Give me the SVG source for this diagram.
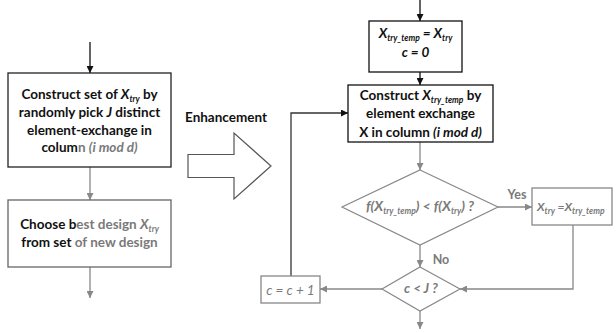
<svg xmlns="http://www.w3.org/2000/svg" width="616" height="333" viewBox="0 0 616 333">
<style>
  text{font-family:Lato,"Liberation Sans",sans-serif;font-weight:bold;font-size:13.5px;text-anchor:middle}
  .it{font-style:italic}
  .sub{font-size:8.5px;font-style:italic}
  .dk{fill:#111}
  .gr{fill:#7a7a7a}
  .box{fill:#fff;stroke-width:1.3}
  .kl{fill:none;stroke:#111;stroke-width:1.3}
  .gl{fill:none;stroke:#888;stroke-width:1.3}
</style>
<defs>
  <marker id="ak" viewBox="0 0 10 10" refX="10" refY="5" markerWidth="7" markerHeight="7" markerUnits="userSpaceOnUse" orient="auto"><path d="M0,0L10,5L0,10z" fill="#111"/></marker>
  <marker id="ag" viewBox="0 0 10 10" refX="10" refY="5" markerWidth="7" markerHeight="7" markerUnits="userSpaceOnUse" orient="auto"><path d="M0,0L10,5L0,10z" fill="#888"/></marker>
</defs>
<rect width="616" height="333" fill="#fff"/>
<g id="connectors">
  <path class="kl" d="M90,42V73" marker-end="url(#ak)"/>
  <path class="gl" d="M90,167V200" marker-end="url(#ag)"/>
  <path class="gl" d="M90,267V298" marker-end="url(#ag)"/>
  <path class="kl" d="M420,0V21" marker-end="url(#ak)"/>
  <path class="kl" d="M420,72V85" marker-end="url(#ak)"/>
  <path class="gl" d="M420,142V170" marker-end="url(#ag)"/>
  <path class="gl" d="M498,207H532" marker-end="url(#ag)"/>
  <path class="gl" d="M420,245V267" marker-end="url(#ag)"/>
  <path class="gl" d="M573,225V289H460" marker-end="url(#ag)"/>
  <path class="gl" d="M382,289H320" marker-end="url(#ag)"/>
  <path class="gl" d="M420,311V329" marker-end="url(#ag)"/>
  <path class="kl" d="M291,276V113H348" marker-end="url(#ak)" style="stroke:#333"/>
  <text x="517" y="199" class="gr" style="font-size:12.5px">Yes</text>
  <text x="441" y="264" class="gr" style="font-size:12.5px">No</text>
</g>
<g id="box1">
  <rect class="box" x="8" y="73" width="163" height="94" stroke="#222"/>
  <text x="89.5" y="99" class="dk">Construct set of <tspan class="it">X</tspan><tspan class="sub" dy="3">try</tspan><tspan dy="-3"> by</tspan></text>
  <text x="89.5" y="117" class="dk">randomly pick <tspan class="it">J</tspan> distinct</text>
  <text x="89.5" y="135" class="dk">element-exchange in</text>
  <text x="89.5" y="152" class="dk">colum<tspan class="gr">n <tspan class="it">(i mod d)</tspan></tspan></text>
</g>
<g id="box2">
  <rect class="box" x="8" y="200" width="163" height="67" stroke="#666"/>
  <text x="89.5" y="229" class="dk">Choose b<tspan class="gr">est design <tspan class="it">X</tspan><tspan class="sub" dy="3">try</tspan></tspan></text>
  <text x="89.5" y="247" class="dk">from set <tspan class="gr">of new design</tspan></text>
</g>
<g id="enhancement">
  <text x="226" y="122" class="dk">Enhancement</text>
  <polygon points="188,154.5 234,154.5 234,133 271,166 234,199 234,177.5 188,177.5" fill="#fff" stroke="#555" stroke-width="1.2"/>
</g>
<g id="init">
  <rect class="box" x="369" y="21" width="93" height="51" stroke="#111"/>
  <text x="415.5" y="38" class="dk it">X<tspan class="sub" dy="3">try_temp</tspan><tspan dy="-3"> = X</tspan><tspan class="sub" dy="3">try</tspan></text>
  <text x="415.5" y="57" class="dk it">c = 0</text>
</g>
<g id="construct">
  <rect class="box" x="348" y="85" width="145" height="57" stroke="#111"/>
  <text x="420.5" y="100" class="dk">Construct <tspan class="it">X</tspan><tspan class="sub" dy="3">try_temp</tspan><tspan dy="-3"> by</tspan></text>
  <text x="420.5" y="118" class="dk">element exchange</text>
  <text x="420.5" y="137" class="dk">X in column <tspan class="it">(i mod d)</tspan></text>
</g>
<g id="compare">
  <polygon points="420,170 498,207 420,245 342,207" fill="#fff" stroke="#888" stroke-width="1.2"/>
  <text x="420" y="211" class="gr it" style="font-size:14px">f(X<tspan class="sub" dy="3">try_temp</tspan><tspan dy="-3">) &lt; f(X</tspan><tspan class="sub" dy="3">try</tspan><tspan dy="-3">) ?</tspan></text>
</g>
<g id="update">
  <rect class="box" x="532" y="188" width="80" height="37" stroke="#888"/>
  <text x="537" y="211" class="gr it" style="text-anchor:start;font-size:12px">X<tspan class="sub" dy="3">try</tspan><tspan dy="-3"> =X</tspan><tspan class="sub" dy="3">try_temp</tspan></text>
</g>
<g id="check">
  <polygon points="420,267 460,289 420,311 382,289" fill="#fff" stroke="#888" stroke-width="1.2"/>
  <text x="421" y="293" class="gr it">c &lt; J ?</text>
</g>
<g id="increment">
  <rect class="box" x="261" y="276" width="59" height="27" stroke="#888"/>
  <text x="290.5" y="294.5" class="gr it" style="font-weight:normal;font-size:13.5px">c = c + 1</text>
</g>
</svg>
